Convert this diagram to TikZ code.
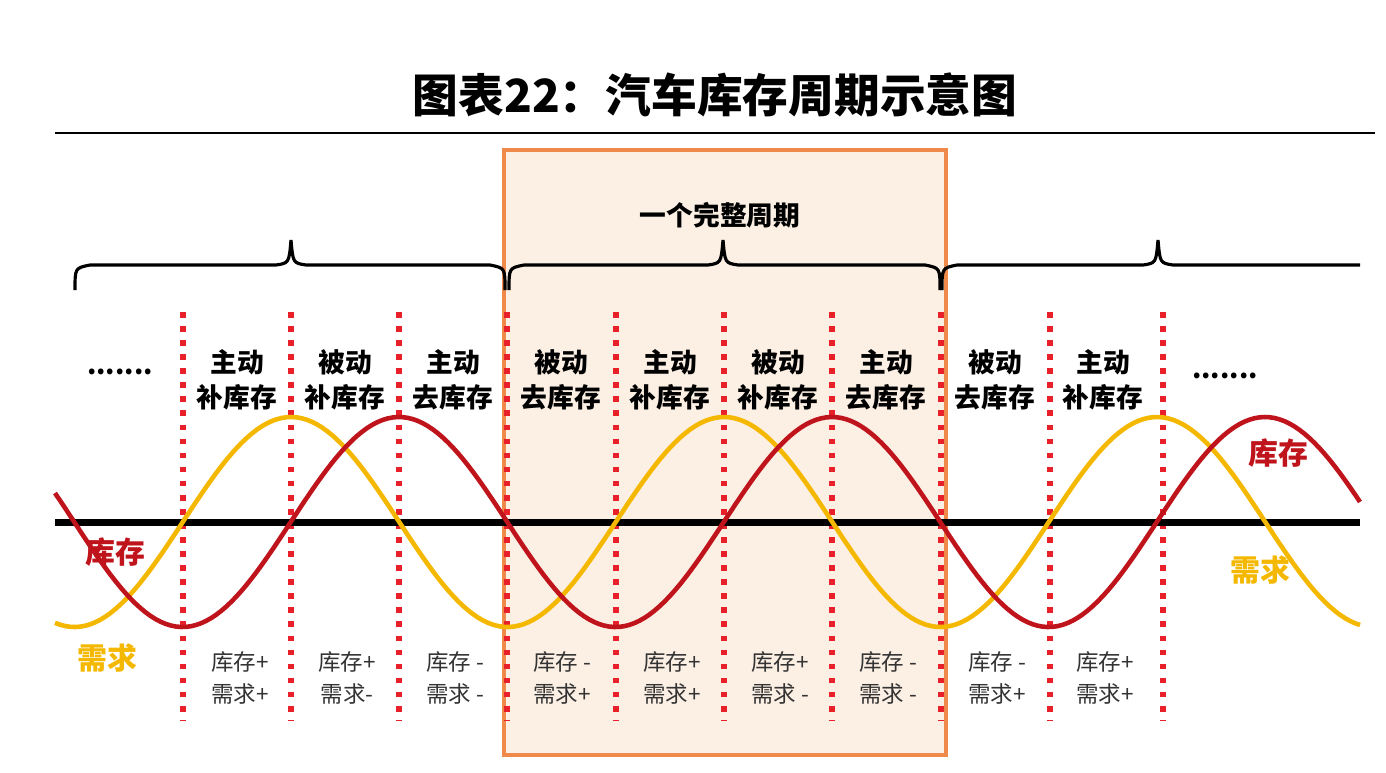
\documentclass[tikz,border=0pt]{standalone}
\usepackage{fontspec}
\newfontfamily\cjk{Noto Sans CJK SC}
\begin{document}
\begin{tikzpicture}[x=0.01cm,y=-0.01cm,
  stage/.style={font=\cjk\bfseries\fontsize{7.6}{10}\selectfont,align=center,inner sep=0},
  sign/.style={font=\cjk\fontsize{6.4}{9}\selectfont,align=center,inner sep=0,text=black!80},
  divl/.style={draw=divred,line width=1.6pt,dash pattern=on 1.6pt off 2.4pt},
  brc/.style={draw=black,line width=0.9pt}]
\definecolor{invred}{HTML}{C0141C}
\definecolor{demy}{HTML}{F5B800}
\definecolor{divred}{HTML}{E8202A}
\definecolor{boxo}{HTML}{F08A4B}
\definecolor{boxf}{HTML}{FCEFE4}
\useasboundingbox (0,0) rectangle (1386,772);
\fill[white] (0,0) rectangle (1386,772);
\node[font=\cjk\bfseries\fontsize{13}{16}\selectfont] (title) at (715,95) {图表22：汽车库存周期示意图};
\draw[line width=0.8pt] (55,133) -- (1375,133);
\draw[boxo,fill=boxf,line width=1.2pt] (504,150) rectangle (946,755);
\node[stage] (full) at (720,215) {一个完整周期};
% braces
\draw[brc] (75,290) .. controls (75,268) .. (90,265) -- (276,265) .. controls (289,263) .. (291,240) .. controls (293,263) .. (306,265) -- (490,265) .. controls (505,268) .. (505,290);
\draw[brc] (509,290) .. controls (509,268) .. (524,265) -- (708,265) .. controls (721,263) .. (723,240) .. controls (725,263) .. (738,265) -- (925,265) .. controls (940,268) .. (940,290);
\draw[brc] (942,290) .. controls (942,268) .. (957,265) -- (1143,265) .. controls (1156,263) .. (1158,240) .. controls (1160,263) .. (1173,265) -- (1360,265);
% dividers
\foreach \x in {183,291,399,507,616,724,832,941,1050,1163}
  \draw[divl] (\x,312) -- (\x,720);
% axis
\draw[line width=2pt] (55,522) -- (1360,522);
% curves
\draw[demy,line width=1.3pt,domain=55:1360,samples=260] plot (\x,{522-105*cos(0.831409*(\x-291))});
\draw[invred,line width=1.3pt,domain=55:1360,samples=260] plot (\x,{522-105*cos(0.831409*(\x-399))});
% stage labels
\foreach \x/\t in {237/主动\\补库存,345/被动\\补库存,453/主动\\去库存,561/被动\\去库存,670/主动\\补库存,778/被动\\补库存,886/主动\\去库存,995/被动\\去库存,1103/主动\\补库存}
  \node[stage] at (\x,380) {\t};
\node[stage] (dl) at (120,372) {.......};
\node[stage] (dr) at (1225,376) {.......};
% signs
\foreach \x/\t in {240/库存+\\需求+,347/库存+\\需求-,455/库存 -\\需求 -,562/库存 -\\需求+,672/库存+\\需求+,780/库存+\\需求 -,888/库存 -\\需求 -,997/库存 -\\需求+,1105/库存+\\需求+}
  \node[sign] at (\x,678) {\t};
% series labels
\node[stage,text=invred,font=\cjk\bfseries\fontsize{8.5}{10}\selectfont] (l1) at (115,552) {库存};
\node[stage,text=demy,font=\cjk\bfseries\fontsize{8.5}{10}\selectfont] (l2) at (107,658) {需求};
\node[stage,text=invred,font=\cjk\bfseries\fontsize{8.5}{10}\selectfont] (l3) at (1278,453) {库存};
\node[stage,text=demy,font=\cjk\bfseries\fontsize{8.5}{10}\selectfont] (l4) at (1260,570) {需求};
\end{tikzpicture}
\end{document}
